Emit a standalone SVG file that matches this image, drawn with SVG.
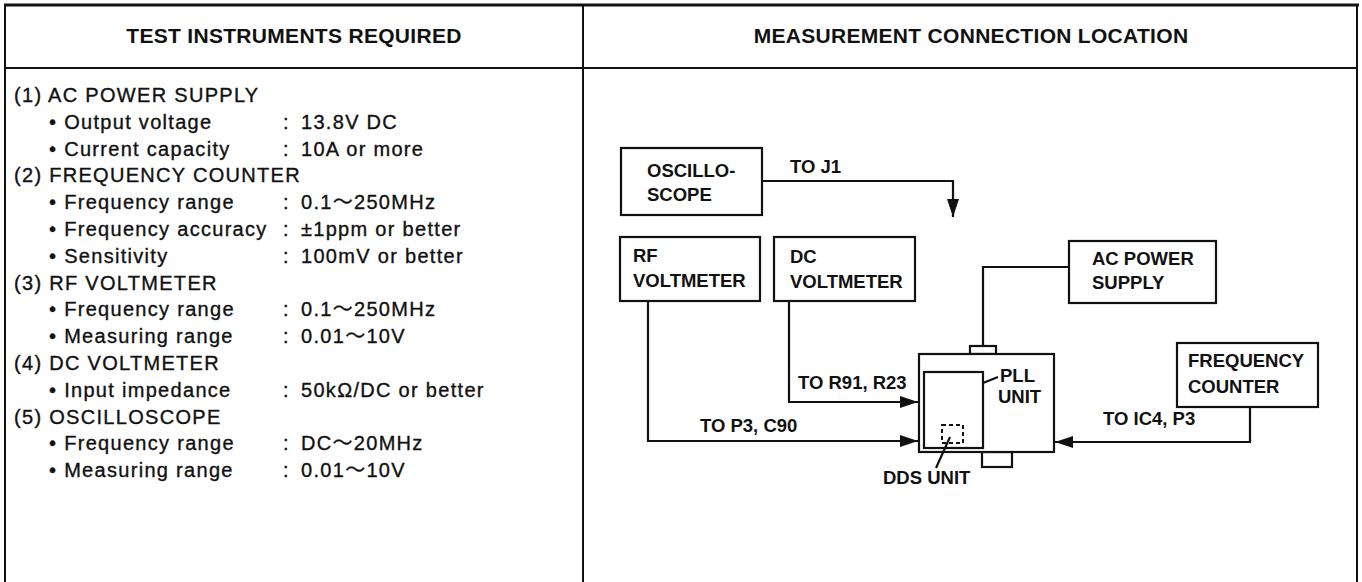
<svg xmlns="http://www.w3.org/2000/svg" width="1362" height="582" viewBox="0 0 1362 582">
<style>
.frame{fill:none;stroke:#111;stroke-width:2}
.box{fill:#fff;stroke:#111;stroke-width:2.2}
.wire{fill:none;stroke:#111;stroke-width:2.2}
.hd{font-family:"Liberation Sans",Arial,sans-serif;font-weight:bold;font-size:21px;fill:#111;letter-spacing:0.3px}
.tx{font-family:"Liberation Sans",Arial,"Noto Sans CJK JP",sans-serif;font-size:20px;fill:#111;stroke:#111;stroke-width:0.35;letter-spacing:1.3px}
.lb{font-family:"Liberation Sans",Arial,sans-serif;font-weight:bold;font-size:18.5px;fill:#111}
</style>
<defs>
<marker id="arr" markerUnits="userSpaceOnUse" markerWidth="20" markerHeight="14" refX="18" refY="6" orient="auto">
<path d="M0,0 L18,6 L0,12 z" fill="#111"/>
</marker>
</defs>
<rect width="1362" height="582" fill="#fff"/>
<g id="table">
<line x1="4" y1="5" x2="1359" y2="5" stroke="#111" stroke-width="3"/>
<line x1="5" y1="4" x2="5" y2="582" class="frame"/>
<line x1="1357" y1="4" x2="1357" y2="582" class="frame"/>
<line x1="583" y1="4" x2="583" y2="582" class="frame"/>
<line x1="5" y1="68" x2="1357" y2="68" class="frame"/>
<text class="hd" x="294" y="43" text-anchor="middle">TEST INSTRUMENTS REQUIRED</text>
<text class="hd" x="971" y="43" text-anchor="middle">MEASUREMENT CONNECTION LOCATION</text>
</g>
<g id="instrument-list" class="tx">
<text x="14" y="102">(1) AC POWER SUPPLY</text>
<text x="49" y="129">• Output voltage</text><text x="283" y="129">:</text><text x="301" y="129">13.8V DC</text>
<text x="49" y="156">• Current capacity</text><text x="283" y="156">:</text><text x="301" y="156">10A or more</text>
<text x="14" y="182">(2) FREQUENCY COUNTER</text>
<text x="49" y="209">• Frequency range</text><text x="283" y="209">:</text><text x="301" y="209">0.1～250MHz</text>
<text x="49" y="236">• Frequency accuracy</text><text x="283" y="236">:</text><text x="301" y="236">±1ppm or better</text>
<text x="49" y="263">• Sensitivity</text><text x="283" y="263">:</text><text x="301" y="263">100mV or better</text>
<text x="14" y="290">(3) RF VOLTMETER</text>
<text x="49" y="316">• Frequency range</text><text x="283" y="316">:</text><text x="301" y="316">0.1～250MHz</text>
<text x="49" y="343">• Measuring range</text><text x="283" y="343">:</text><text x="301" y="343">0.01～10V</text>
<text x="14" y="370">(4) DC VOLTMETER</text>
<text x="49" y="397">• Input impedance</text><text x="283" y="397">:</text><text x="301" y="397">50kΩ/DC or better</text>
<text x="14" y="424">(5) OSCILLOSCOPE</text>
<text x="49" y="450">• Frequency range</text><text x="283" y="450">:</text><text x="301" y="450">DC～20MHz</text>
<text x="49" y="477">• Measuring range</text><text x="283" y="477">:</text><text x="301" y="477">0.01～10V</text>
</g>
<g id="connectors">
<polyline class="wire" points="762,181 953,181 953,217" marker-end="url(#arr)"/>
<polyline class="wire" points="789,301 789,402 918,402" marker-end="url(#arr)"/>
<polyline class="wire" points="648,301 648,441 918,441" marker-end="url(#arr)"/>
<polyline class="wire" points="1250,407 1250,442 1055,442" marker-end="url(#arr)"/>
<polyline class="wire" points="1069,267 983,267 983,346"/>
<text class="lb" x="790" y="173">TO J1</text>
<text class="lb" x="798" y="389">TO R91, R23</text>
<text class="lb" x="700" y="432">TO P3, C90</text>
<text class="lb" x="1103" y="425">TO IC4, P3</text>
</g>
<g id="node-oscilloscope">
<rect class="box" x="621" y="148" width="141" height="67"/>
<text class="lb" x="647" y="177">OSCILLO-</text>
<text class="lb" x="647" y="201">SCOPE</text>
</g>
<g id="node-rf-voltmeter">
<rect class="box" x="620" y="237" width="140" height="64"/>
<text class="lb" x="633" y="262">RF</text>
<text class="lb" x="633" y="287">VOLTMETER</text>
</g>
<g id="node-dc-voltmeter">
<rect class="box" x="774" y="237" width="141" height="64"/>
<text class="lb" x="790" y="263">DC</text>
<text class="lb" x="790" y="288">VOLTMETER</text>
</g>
<g id="node-ac-power-supply">
<rect class="box" x="1069" y="241" width="147" height="62"/>
<text class="lb" x="1092" y="265">AC POWER</text>
<text class="lb" x="1092" y="289">SUPPLY</text>
</g>
<g id="node-frequency-counter">
<rect class="box" x="1177" y="343" width="141" height="64"/>
<text class="lb" x="1188" y="367">FREQUENCY</text>
<text class="lb" x="1188" y="393">COUNTER</text>
</g>
<g id="node-transceiver">
<rect class="box" x="970" y="346" width="26" height="8"/>
<rect class="box" x="982" y="452" width="30" height="15"/>
<rect class="box" x="919" y="354" width="135" height="98"/>
<rect class="box" x="924" y="372" width="59" height="76"/>
<rect x="942" y="425" width="21" height="18" fill="none" stroke="#111" stroke-width="2" stroke-dasharray="4,3"/>
<line x1="983" y1="383" x2="998" y2="377" class="wire" stroke-width="1.6"/>
<line x1="950" y1="437" x2="936" y2="468" class="wire" stroke-width="1.6"/>
<text class="lb" x="1000" y="382">PLL</text>
<text class="lb" x="998" y="403">UNIT</text>
<text class="lb" x="883" y="484">DDS UNIT</text>
</g>
</svg>
